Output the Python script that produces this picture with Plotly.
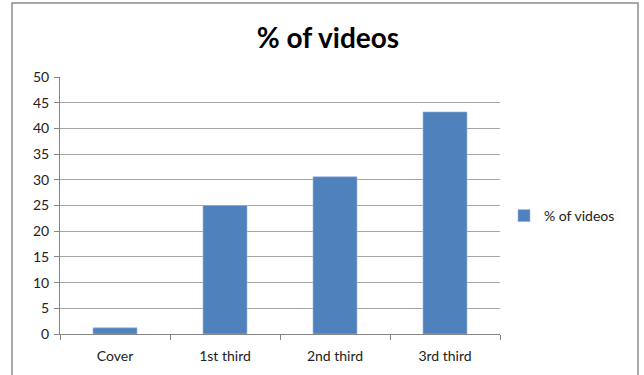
import plotly.graph_objects as go

categories = ["Cover", "1st third", "2nd third", "3rd third"]
values = [1.2, 25.0, 30.6, 43.2]
series_name = "% of videos"
title_text = "% of videos"
y_ticks = [0, 5, 10, 15, 20, 25, 30, 35, 40, 45, 50]

W, H = 644, 375
L, R, T, B = 60, 144, 77, 41
pw = W - L - R
ph = H - T - B

def px_x(px):
    return (px - L) / pw

def px_y(py):
    return (H - B - py) / ph

fig = go.Figure()
fig.add_trace(go.Bar(
    x=categories, y=values, name=series_name,
    marker=dict(color="#4F81BD", line=dict(color="#9DB9DE", width=0.6)),
    showlegend=True,
))

font_family = "Lato, Liberation Sans, sans-serif"
fig.update_layout(
    width=W, height=H,
    margin=dict(l=L, r=R, t=T, b=B, autoexpand=False),
    paper_bgcolor="white", plot_bgcolor="white",
    bargap=0.6,
    font=dict(family=font_family, size=14, color="#222222"),
    title=dict(text="<b>" + title_text + "</b>", x=328 / W, xanchor="center",
               y=1 - 38 / H, yanchor="middle",
               font=dict(family=font_family, size=28, color="black")),
    showlegend=True,
    legend=dict(x=px_x(504), y=px_y(216), xanchor="left", yanchor="middle",
                font=dict(size=14, color="#222222"), bgcolor="rgba(0,0,0,0)",
                itemwidth=30),
    xaxis=dict(showline=True, linecolor="#868686", linewidth=1,
               ticks="outside", ticklen=5, tickcolor="#868686",
               tickson="boundaries", showgrid=False,
               tickfont=dict(size=14, color="#222222"), ticklabelstandoff=9),
    yaxis=dict(range=[0, 50], tickvals=y_ticks, showline=True, linecolor="#868686",
               linewidth=1, ticks="outside", ticklen=5, tickcolor="#868686",
               showgrid=True, gridcolor="#A6A6A6", gridwidth=1, zeroline=False,
               tickfont=dict(size=14, color="#222222"), ticklabelstandoff=2),
)

fig.add_shape(type="rect", xref="paper", yref="paper",
              x0=px_x(12), x1=px_x(638), y0=px_y(380), y1=px_y(3),
              line=dict(color="#8C8C8C", width=1.5), fillcolor="rgba(0,0,0,0)",
              layer="below")

fig.write_html("out.html")
